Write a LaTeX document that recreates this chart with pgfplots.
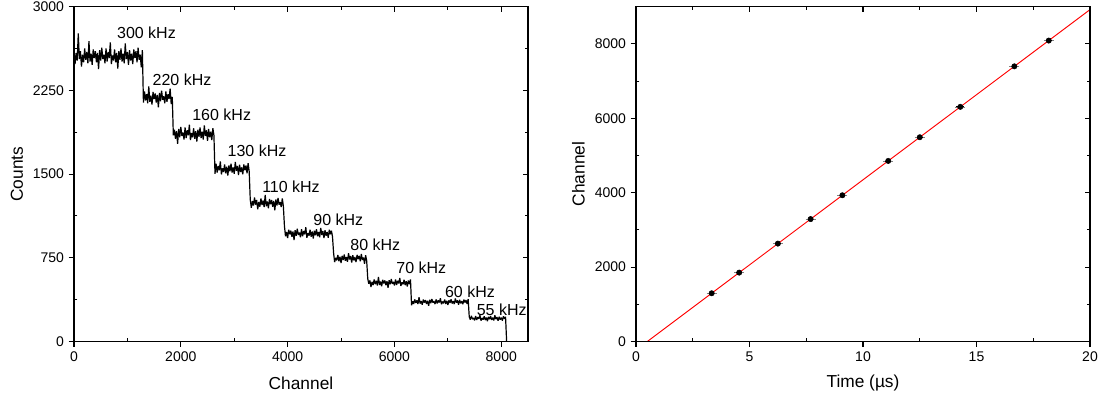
\documentclass[border=0pt]{standalone}
\usepackage{fontspec}
\setmainfont{Liberation Sans}
\usepackage{pgfplots}
\pgfplotsset{compat=1.18}

\pgfplotsset{
 panel/.style={scale only axis, width=340.5pt, height=251.1pt, anchor=south west,
   tick align=outside, xtick pos=left, ytick pos=left,
   major tick length=4pt, minor tick length=-2.5pt, minor tick num=1,
   axis line style={line width=0.9pt}, every tick/.style={black, line width=0.8pt},
   tick label style={font=\fontsize{10.5}{12}\selectfont},
   label style={font=\fontsize{13}{15}\selectfont},
   /pgf/number format/assume math mode=true,
   /pgf/number format/set thousands separator={},
   xlabel style={at={(axis description cs:0.5,-0.125)}, anchor=center},
   ylabel style={at={(axis description cs:-0.126,0.5)}, anchor=center},
 },
 frame/.style={scale only axis, width=340.5pt, height=251.1pt, anchor=south west,
   tick align=inside, xtick pos=right, ytick pos=right, xticklabels={}, yticklabels={},
   major tick length=4pt, minor tick length=2.5pt, minor tick num=1,
   axis line style={line width=0.9pt}, every tick/.style={black, line width=0.8pt}},
}
\tikzset{ann/.style={font=\fontsize{12}{14}\selectfont, inner sep=0pt}}

\begin{document}
\begin{tikzpicture}
\path[use as bounding box] (-55.5pt,-47.6pt) rectangle (782.25pt,256.1pt);

% ---------------- left panel ----------------
\begin{axis}[panel, at={(0pt,0pt)}, xmin=0, xmax=8500, ymin=0, ymax=3000,
  xtick={0,2000,4000,6000,8000}, ytick={0,750,1500,2250,3000},
  xlabel={Channel}, ylabel={Counts}]
\addplot[black, line width=0.9pt, line join=bevel] table[x expr=\coordindex*20, y index=0, header=false, row sep=\\] {
2610\\ 2486\\ 2586\\ 2517\\ 2760\\ 2531\\ 2601\\ 2463\\ 2570\\ 2502\\
2625\\ 2524\\ 2594\\ 2493\\ 2690\\ 2509\\ 2579\\ 2478\\ 2617\\ 2540\\
2601\\ 2502\\ 2586\\ 2440\\ 2610\\ 2517\\ 2632\\ 2531\\ 2570\\ 2493\\
2625\\ 2509\\ 2594\\ 2540\\ 2680\\ 2486\\ 2563\\ 2517\\ 2617\\ 2502\\
2586\\ 2445\\ 2601\\ 2524\\ 2625\\ 2509\\ 2579\\ 2493\\ 2670\\ 2531\\
2594\\ 2478\\ 2610\\ 2517\\ 2579\\ 2486\\ 2617\\ 2540\\ 2601\\ 2502\\
2632\\ 2524\\ 2570\\ 2456\\ 2610\\
2140\\ 2241\\ 2160\\ 2216\\ 2135\\ 2286\\ 2147\\ 2203\\ 2122\\ 2235\\
2172\\ 2223\\ 2140\\ 2210\\ 2097\\ 2228\\ 2153\\ 2248\\ 2165\\ 2198\\
2135\\ 2241\\ 2147\\ 2216\\ 2172\\ 2266\\ 2128\\ 2191\\
1847\\ 1898\\ 1817\\ 1885\\ 1772\\ 1905\\ 1829\\ 1923\\ 1842\\ 1873\\
1810\\ 1917\\ 1822\\ 1892\\ 1847\\ 1943\\ 1804\\ 1867\\ 1829\\ 1910\\
1817\\ 1885\\ 1791\\ 1898\\ 1835\\ 1917\\ 1822\\ 1880\\ 1810\\ 1936\\
1842\\ 1892\\ 1797\\ 1905\\ 1829\\ 1880\\ 1804\\ 1910\\ 1847\\
1503\\ 1593\\ 1513\\ 1572\\ 1534\\ 1614\\ 1497\\ 1551\\ 1518\\ 1587\\
1507\\ 1566\\ 1486\\ 1577\\ 1524\\ 1593\\ 1513\\ 1560\\ 1503\\ 1609\\
1530\\ 1572\\ 1492\\ 1583\\ 1518\\ 1560\\ 1497\\ 1587\\ 1534\\ 1577\\
1507\\ 1598\\ 1524\\
1272\\ 1198\\ 1258\\ 1218\\ 1290\\ 1226\\ 1268\\ 1184\\ 1250\\ 1208\\
1282\\ 1222\\ 1264\\ 1204\\ 1314\\ 1212\\ 1254\\ 1194\\ 1276\\ 1230\\
1268\\ 1208\\ 1258\\ 1176\\ 1272\\ 1218\\ 1286\\ 1226\\ 1250\\ 1204\\
1282\\ 1212\\
1035\\ 943\\ 981\\ 926\\ 1002\\ 960\\ 993\\ 939\\ 985\\ 909\\
997\\ 947\\ 1010\\ 955\\ 976\\ 934\\ 1006\\ 943\\ 989\\ 960\\
1023\\ 930\\ 972\\ 947\\ 1002\\ 939\\ 985\\ 922\\ 993\\ 951\\
1006\\ 943\\ 981\\ 934\\ 1018\\ 955\\ 989\\ 926\\ 997\\ 947\\
981\\ 930\\ 1002\\ 960\\ 993\\ 939\\
794\\ 711\\ 749\\ 727\\ 776\\ 718\\ 760\\ 703\\ 767\\ 730\\
779\\ 723\\ 756\\ 714\\ 790\\ 734\\ 765\\ 707\\ 772\\ 727\\
756\\ 711\\ 776\\ 738\\ 767\\ 718\\ 783\\ 730\\ 752\\ 696\\
772\\ 723\\
562\\ 517\\ 547\\ 488\\ 534\\ 505\\ 556\\ 514\\ 544\\ 502\\
579\\ 507\\ 537\\ 495\\ 552\\ 520\\ 547\\ 505\\ 540\\ 482\\
549\\ 512\\ 559\\ 517\\ 534\\ 502\\ 556\\ 507\\ 544\\ 520\\
569\\ 498\\ 530\\ 512\\ 552\\ 505\\ 540\\ 492\\ 547\\ 514\\
556\\
324\\ 361\\ 337\\ 377\\ 345\\ 368\\ 335\\ 396\\ 340\\ 362\\
330\\ 375\\ 349\\ 370\\ 337\\ 365\\ 320\\ 373\\ 342\\ 380\\
348\\ 361\\ 335\\ 377\\ 340\\ 368\\ 349\\ 387\\ 333\\ 358\\
342\\ 375\\ 337\\ 365\\ 327\\ 370\\ 345\\ 377\\ 340\\ 362\\
335\\ 386\\ 348\\ 368\\ 330\\ 373\\ 342\\ 362\\ 333\\ 375\\
349\\ 370\\ 337\\ 380\\
222\\ 196\\ 229\\ 200\\ 211\\ 189\\ 227\\ 193\\ 218\\ 203\\
236\\ 187\\ 210\\ 196\\ 225\\ 192\\ 215\\ 182\\ 221\\ 199\\
227\\ 193\\ 214\\ 189\\ 234\\ 200\\ 218\\ 185\\ 222\\ 196\\
214\\ 187\\ 225\\ 203\\ 221\\
0\\
};
\node[ann] at (axis cs:1357,2763) {300 kHz};
\node[ann] at (axis cs:2022,2349) {220 kHz};
\node[ann] at (axis cs:2765,2032) {160 kHz};
\node[ann] at (axis cs:3427,1712) {130 kHz};
\node[ann] at (axis cs:4063,1388) {110 kHz};
\node[ann] at (axis cs:4949,1092) {90 kHz};
\node[ann] at (axis cs:5642,870) {80 kHz};
\node[ann] at (axis cs:6502,663) {70 kHz};
\node[ann] at (axis cs:7414,447) {60 kHz};
\node[ann] at (axis cs:8008,288) {55 kHz};
\end{axis}
\begin{axis}[frame, at={(0pt,0pt)}, xmin=0, xmax=8500, ymin=0, ymax=3000,
  xtick={0,2000,4000,6000,8000}, ytick={0,750,1500,2250,3000}]
\end{axis}

% ---------------- right panel ----------------
\begin{axis}[panel, at={(421.5pt,0pt)}, xmin=0, xmax=20, ymin=0, ymax=9000,
  xtick={0,5,10,15,20}, ytick={0,2000,4000,6000,8000},
  xlabel={Time (µs)}, ylabel={Channel},
  ylabel style={at={(axis description cs:-0.127,0.5)}, anchor=center}]
\addplot[red, line width=0.7pt] coordinates {(0.5,0) (20,8921)};
\addplot[black, only marks, mark=none,
  error bars/.cd, x dir=both, x explicit,
  error bar style={black, line width=0.55pt},
  error mark options={black!50, mark size=0.8pt, line width=0.5pt}]
  coordinates {
  (3.333,1296) +- (0.17,0)
  (4.545,1851) +- (0.17,0)
  (6.25,2631) +- (0.17,0)
  (7.692,3290) +- (0.17,0)
  (9.091,3930) +- (0.17,0)
  (11.111,4854) +- (0.17,0)
  (12.5,5490) +- (0.17,0)
  (14.286,6307) +- (0.17,0)
  (16.667,7396) +- (0.17,0)
  (18.182,8089) +- (0.17,0)
  };
\end{axis}
\begin{axis}[frame, at={(421.5pt,0pt)}, xmin=0, xmax=20, ymin=0, ymax=9000,
  xtick={0,5,10,15,20}, ytick={0,2000,4000,6000,8000}]
\end{axis}
\end{tikzpicture}
\end{document}
